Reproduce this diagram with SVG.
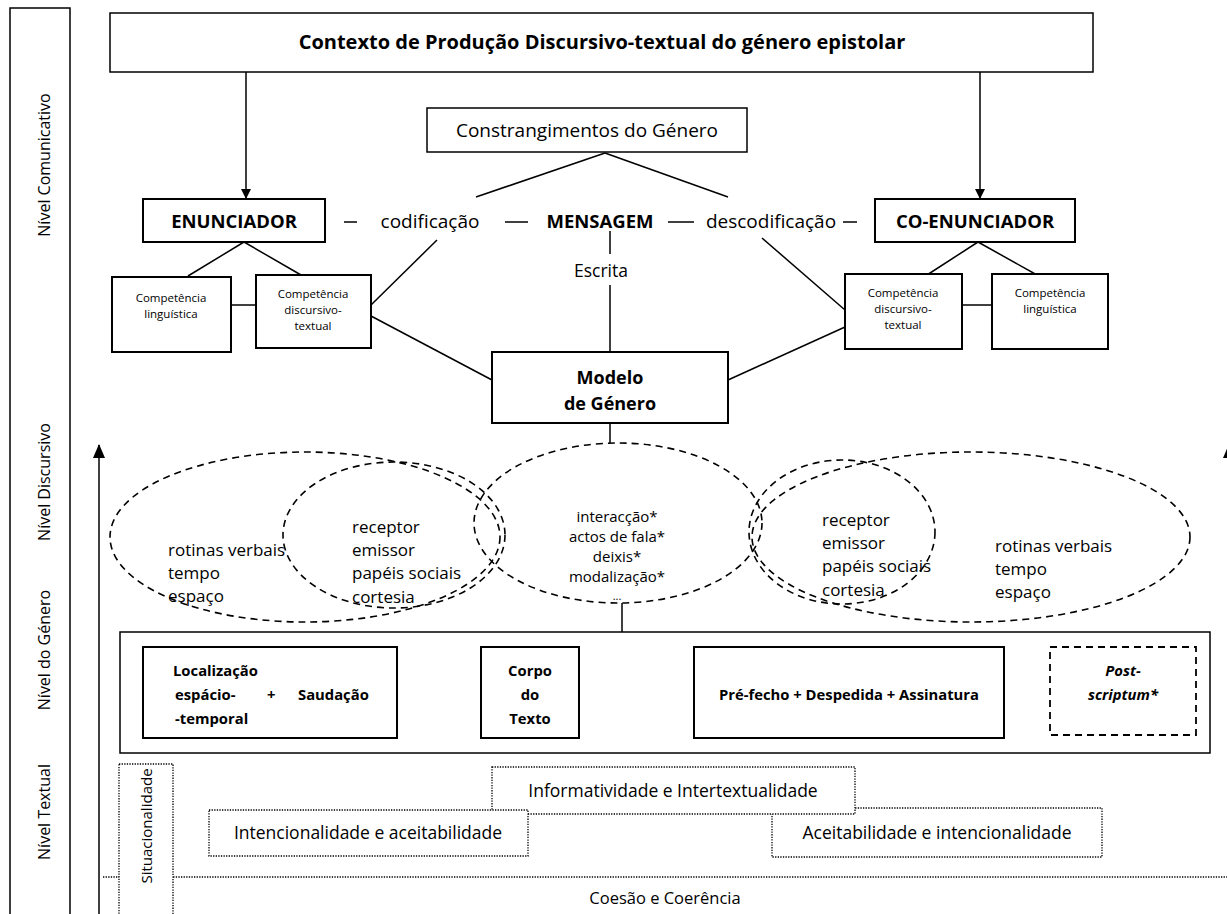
<svg xmlns="http://www.w3.org/2000/svg" width="1227" height="914" viewBox="0 0 1227 914">
<style>
text{font-family:"Open Sans","Liberation Sans",sans-serif;fill:#000}
.box{fill:#fff;stroke:#000;stroke-width:2}
.thin{fill:#fff;stroke:#000;stroke-width:1.5}
.ln{stroke:#000;stroke-width:1.5;fill:none}
.dash{fill:none;stroke:#000;stroke-width:1.6;stroke-dasharray:7 5}
.dot{fill:#fff;stroke:#000;stroke-width:1.3;stroke-dasharray:1.3 1.3}
.b{font-weight:bold}
.m{text-anchor:middle}
.lv{font-size:16px}
.cp{font-size:11.5px}
.el{font-size:17px}
.gn{font-size:14.8px;font-weight:bold}
.tx{font-size:17.5px}
</style>
<defs>
<marker id="ah" markerWidth="10" markerHeight="10" refX="9" refY="5" orient="auto" markerUnits="userSpaceOnUse">
<path d="M0,0 L10,5 L0,10 Z" fill="#000"/>
</marker>
<marker id="ahs" markerWidth="14" markerHeight="12" refX="13" refY="6" orient="auto" markerUnits="userSpaceOnUse">
<path d="M0,0 L14,6 L0,12 Z" fill="#000"/>
</marker>
</defs>
<rect width="1227" height="914" fill="#fff"/>

<g id="levels">
<rect x="10" y="8" width="60" height="920" class="thin"/>
<text transform="translate(44,165) rotate(-90)" class="m lv" dominant-baseline="central">Nível Comunicativo</text>
<text transform="translate(44,482) rotate(-90)" class="m lv" dominant-baseline="central">Nível Discursivo</text>
<text transform="translate(44,650) rotate(-90)" class="m lv" dominant-baseline="central">Nível do Género</text>
<text transform="translate(44,812) rotate(-90)" class="m lv" dominant-baseline="central">Nível Textual</text>
</g>

<g id="connectors">
<line x1="99" y1="914" x2="99" y2="445" class="ln" marker-end="url(#ahs)"/>
<line x1="1229" y1="914" x2="1229" y2="445" class="ln" marker-end="url(#ahs)"/>
<line x1="246" y1="72" x2="246" y2="198" class="ln" marker-end="url(#ah)"/>
<line x1="980" y1="72" x2="980" y2="198" class="ln" marker-end="url(#ah)"/>
<line x1="605" y1="153" x2="476" y2="197" class="ln"/>
<line x1="605" y1="153" x2="728" y2="197" class="ln"/>
<line x1="344" y1="222" x2="357" y2="222" class="ln" stroke-width="2"/>
<line x1="505" y1="222" x2="528" y2="222" class="ln" stroke-width="2"/>
<line x1="668" y1="222" x2="694" y2="222" class="ln" stroke-width="2"/>
<line x1="843" y1="222" x2="857" y2="222" class="ln" stroke-width="2"/>
<line x1="610" y1="231" x2="610" y2="254" class="ln"/>
<line x1="610" y1="285" x2="610" y2="352" class="ln"/>
<line x1="244" y1="242" x2="188" y2="276" class="ln"/>
<line x1="244" y1="242" x2="301" y2="275" class="ln"/>
<line x1="231" y1="305" x2="256" y2="305" class="ln"/>
<line x1="371" y1="305" x2="437" y2="240" class="ln"/>
<line x1="371" y1="316" x2="492" y2="380" class="ln"/>
<line x1="978" y1="242" x2="927" y2="275" class="ln"/>
<line x1="978" y1="242" x2="1037" y2="275" class="ln"/>
<line x1="962" y1="305" x2="992" y2="305" class="ln"/>
<line x1="762" y1="238" x2="845" y2="310" class="ln"/>
<line x1="845" y1="327" x2="728" y2="380" class="ln"/>
<line x1="610" y1="423" x2="610" y2="443" class="ln"/>
<line x1="622" y1="603" x2="622" y2="632" class="ln"/>
<line x1="397" y1="693" x2="480" y2="693" class="ln" stroke-width="2" marker-end="url(#ahs)"/>
<line x1="579" y1="693" x2="693" y2="693" class="ln" stroke-width="2" marker-end="url(#ahs)"/>
<line x1="1004" y1="693" x2="1049" y2="693" class="ln" stroke-width="2" stroke-dasharray="6 5" marker-end="url(#ahs)"/>
</g>

<g id="contexto">
<rect x="110" y="13" width="983" height="59" class="thin"/>
<text x="602" y="49" class="m b" font-size="20">Contexto de Produção Discursivo-textual do género epistolar</text>
</g>

<g id="constrangimentos">
<rect x="427" y="108" width="320" height="44" class="thin"/>
<text x="587" y="137" class="m" font-size="19">Constrangimentos do Género</text>
</g>

<g id="enunciador">
<rect x="143" y="199" width="182" height="43" class="box"/>
<text x="234" y="228" class="m b" font-size="18.5">ENUNCIADOR</text>
</g>
<g id="co-enunciador">
<rect x="875" y="199" width="200" height="43" class="box"/>
<text x="975" y="228" class="m b" font-size="18.5">CO-ENUNCIADOR</text>
</g>

<g id="mensagem">
<text x="430" y="228" class="m" font-size="19">codificação</text>
<text x="600" y="228" class="m b" font-size="18.5">MENSAGEM</text>
<text x="771" y="228" class="m" font-size="19">descodificação</text>
<text x="601" y="277" class="m" font-size="17.5">Escrita</text>
</g>

<g id="comp-ling-esq">
<rect x="112" y="277" width="119" height="75" class="box"/>
<text x="171" y="302" class="m cp">Competência</text>
<text x="171" y="318" class="m cp">linguística</text>
</g>
<g id="comp-disc-esq">
<rect x="256" y="275" width="115" height="73" class="box"/>
<text x="313" y="298" class="m cp">Competência</text>
<text x="313" y="314" class="m cp">discursivo-</text>
<text x="313" y="330" class="m cp">textual</text>
</g>
<g id="comp-disc-dir">
<rect x="845" y="274" width="117" height="75" class="box"/>
<text x="903" y="297" class="m cp">Competência</text>
<text x="903" y="313" class="m cp">discursivo-</text>
<text x="903" y="329" class="m cp">textual</text>
</g>
<g id="comp-ling-dir">
<rect x="992" y="274" width="116" height="75" class="box"/>
<text x="1050" y="297" class="m cp">Competência</text>
<text x="1050" y="313" class="m cp">linguística</text>
</g>

<g id="modelo">
<rect x="492" y="352" width="236" height="71" class="box"/>
<text x="610" y="384" class="m b" font-size="18">Modelo</text>
<text x="610" y="410" class="m b" font-size="18">de Género</text>
</g>

<g id="ellipses">
<ellipse cx="305" cy="537" rx="195" ry="85" class="dash"/>
<ellipse cx="394" cy="535" rx="111" ry="73" class="dash"/>
<ellipse cx="618" cy="523" rx="144" ry="80" class="dash"/>
<ellipse cx="842" cy="532" rx="93" ry="72" class="dash"/>
<ellipse cx="971" cy="537" rx="219" ry="85" class="dash"/>
</g>
<g id="ell-left-text" class="el">
<text x="168" y="556">rotinas  verbais</text>
<text x="168" y="579">tempo</text>
<text x="168" y="602">espaço</text>
<text x="352" y="533">receptor</text>
<text x="352" y="556">emissor</text>
<text x="352" y="579">papéis sociais</text>
<text x="352" y="603">cortesia</text>
</g>
<g id="ell-center-text" font-size="15">
<text x="617" y="522" class="m">interacção*</text>
<text x="617" y="542" class="m">actos de fala*</text>
<text x="617" y="562" class="m">deixis*</text>
<text x="617" y="582" class="m">modalização*</text>
<text x="617" y="600" class="m" font-size="11">...</text>
</g>
<g id="ell-right-text" class="el">
<text x="822" y="526">receptor</text>
<text x="822" y="549">emissor</text>
<text x="822" y="572">papéis sociais</text>
<text x="822" y="596">cortesia</text>
<text x="995" y="552">rotinas  verbais</text>
<text x="995" y="575">tempo</text>
<text x="995" y="598">espaço</text>
</g>

<g id="genero">
<rect x="120" y="632" width="1090" height="121" class="thin"/>
</g>
<g id="localizacao">
<rect x="143" y="647" width="254" height="91" class="box"/>
<text x="173" y="676" class="gn">Localização</text>
<text x="175" y="700" class="gn">espácio-</text>
<text x="175" y="724" class="gn">-temporal</text>
<text x="267" y="700" class="gn">+</text>
<text x="298" y="700" class="gn">Saudação</text>
</g>
<g id="corpo">
<rect x="481" y="647" width="98" height="91" class="box"/>
<text x="530" y="676" class="m gn">Corpo</text>
<text x="530" y="700" class="m gn">do</text>
<text x="530" y="724" class="m gn">Texto</text>
</g>
<g id="prefecho">
<rect x="694" y="647" width="310" height="91" class="box"/>
<text x="849" y="700" class="m gn">Pré-fecho + Despedida + Assinatura</text>
</g>
<g id="postscriptum">
<rect x="1050" y="647" width="146" height="88" fill="#fff" stroke="#000" stroke-width="1.8" stroke-dasharray="7 5"/>
<text x="1123" y="676" class="m gn" font-style="italic">Post-</text>
<text x="1123" y="700" class="m gn" font-style="italic">scriptum*</text>
</g>

<g id="coesao">
<line x1="103" y1="877" x2="1227" y2="877" class="dot"/>
<text x="665" y="904" class="m" font-size="16.5">Coesão e Coerência</text>
</g>
<g id="situacionalidade">
<rect x="119" y="764" width="54" height="160" class="dot"/>
<text transform="translate(146,826) rotate(-90)" class="m" font-size="15" dominant-baseline="central">Situacionalidade</text>
</g>
<g id="aceitabilidade">
<rect x="772" y="808" width="330" height="49" class="dot"/>
<text x="937" y="839" class="m tx">Aceitabilidade e intencionalidade</text>
</g>
<g id="informatividade">
<rect x="492" y="767" width="363" height="47" class="dot"/>
<text x="673" y="797" class="m tx">Informatividade e Intertextualidade</text>
</g>
<g id="intencionalidade">
<rect x="209" y="810" width="319" height="46" class="dot"/>
<text x="368" y="839" class="m tx">Intencionalidade e aceitabilidade</text>
</g>
</svg>
